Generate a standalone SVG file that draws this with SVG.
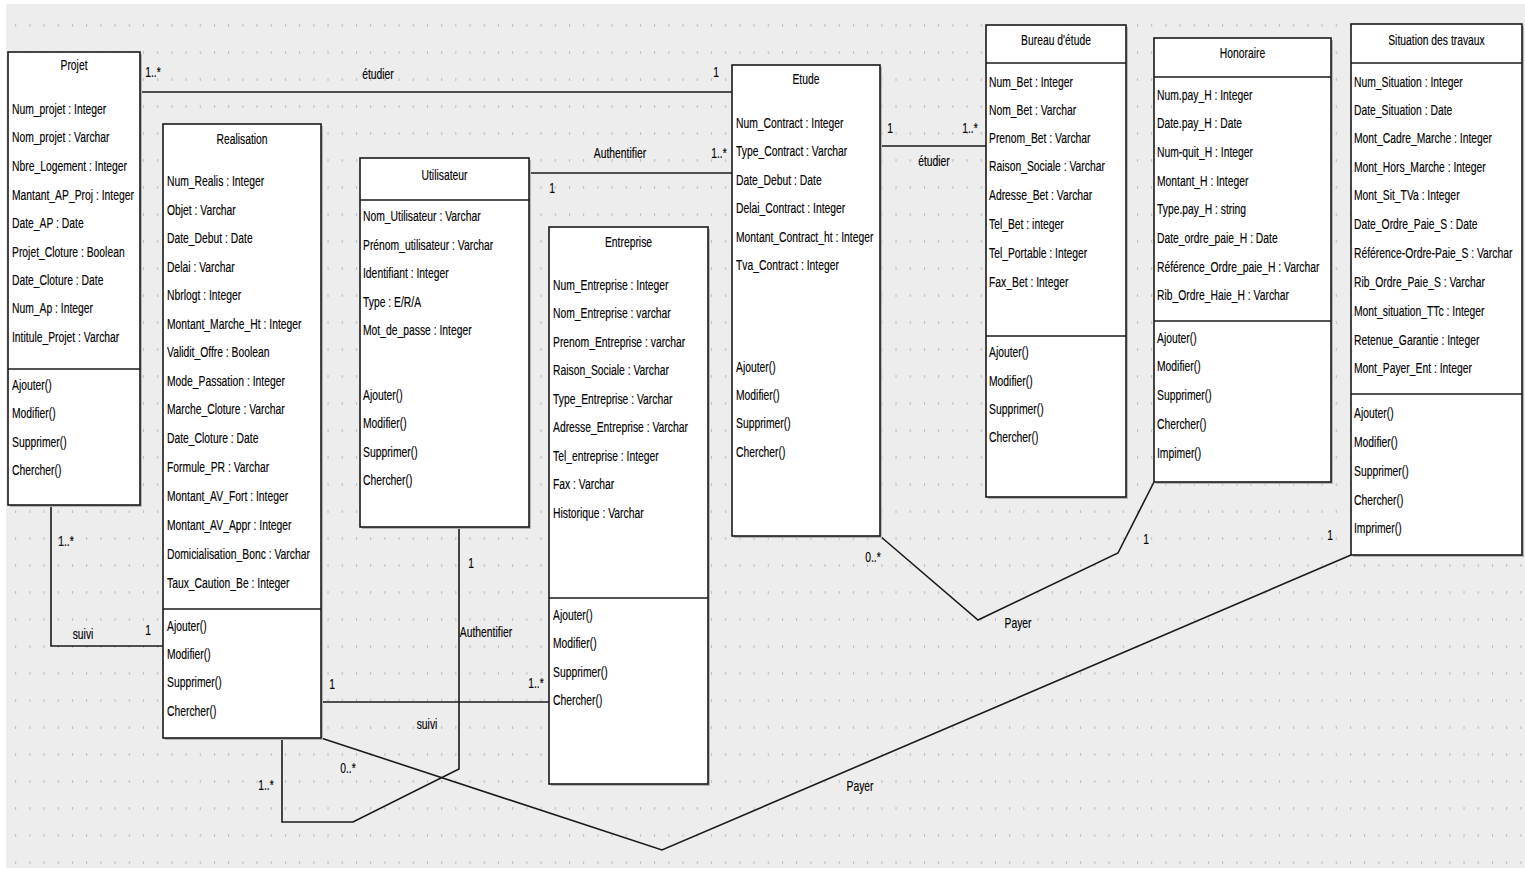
<svg xmlns="http://www.w3.org/2000/svg" width="1525" height="870" viewBox="0 0 1525 870">
<style>
.bg{fill:#ededed}
.box{fill:#fff;stroke:#1a1a1a;stroke-width:1.6}
.shd{fill:#b5b5b5}
.sep{stroke:#1a1a1a;stroke-width:1.6}
.t{font-family:"Liberation Sans",Arial,sans-serif;font-size:15px;fill:#000;stroke:#000;stroke-width:0.15}
.c{text-anchor:middle}
.conn{fill:none;stroke:#1a1a1a;stroke-width:1.6}
</style>
<defs>
<pattern id="grid" x="0" y="0" width="14.2" height="27" patternUnits="userSpaceOnUse">
<rect x="1" y="24" width="1" height="3" fill="#bdbdbd"/>
</pattern>
</defs>
<rect width="1525" height="870" fill="#fff"/>
<rect class="bg" x="6" y="4" width="1519" height="864"/>
<rect x="6" y="4" width="1519" height="864" fill="url(#grid)"/>

<g id="connectors">
<polyline class="conn" points="140,92 732,92"/>
<polyline class="conn" points="529,173 732,173"/>
<polyline class="conn" points="880,146 986,146"/>
<polyline class="conn" points="51,505 51,646 163,646"/>
<polyline class="conn" points="321,702 549,702"/>
<polyline class="conn" points="459,527 459,769 353,822 282,822 282,738"/>
<polyline class="conn" points="321,738 662,850 1351,555"/>
<polyline class="conn" points="880,536 978,620 1118,553 1154,482"/>
<g class="t c">
<text transform="translate(153,77) scale(0.69,1)">1..*</text>
<text transform="translate(378,79) scale(0.69,1)">étudier</text>
<text transform="translate(716,77) scale(0.69,1)">1</text>
<text transform="translate(620,158) scale(0.69,1)">Authentifier</text>
<text transform="translate(719,158) scale(0.69,1)">1..*</text>
<text transform="translate(552,193) scale(0.69,1)">1</text>
<text transform="translate(890,133) scale(0.69,1)">1</text>
<text transform="translate(970,133) scale(0.69,1)">1..*</text>
<text transform="translate(934,166) scale(0.69,1)">étudier</text>
<text transform="translate(66,546) scale(0.69,1)">1..*</text>
<text transform="translate(83,639) scale(0.69,1)">suivi</text>
<text transform="translate(148,635) scale(0.69,1)">1</text>
<text transform="translate(332,689) scale(0.69,1)">1</text>
<text transform="translate(536,688) scale(0.69,1)">1..*</text>
<text transform="translate(427,729) scale(0.69,1)">suivi</text>
<text transform="translate(471,568) scale(0.69,1)">1</text>
<text transform="translate(486,637) scale(0.69,1)">Authentifier</text>
<text transform="translate(266,790) scale(0.69,1)">1..*</text>
<text transform="translate(348,773) scale(0.69,1)">0..*</text>
<text transform="translate(860,791) scale(0.69,1)">Payer</text>
<text transform="translate(1330,540) scale(0.69,1)">1</text>
<text transform="translate(873,562) scale(0.69,1)">0..*</text>
<text transform="translate(1146,544) scale(0.69,1)">1</text>
<text transform="translate(1018,628) scale(0.69,1)">Payer</text>
</g>
</g>

<g id="projet">
<rect class="shd" x="10" y="54" width="132" height="453"/>
<rect class="box" x="8" y="52" width="132" height="453"/>
<line class="sep" x1="8" y1="369" x2="140" y2="369"/>
<g class="t" transform="translate(12,0) scale(0.69,1)">
<text class="c" x="89.9" y="70">Projet</text>
<text x="0" y="114">Num_projet : Integer</text>
<text x="0" y="142">Nom_projet : Varchar</text>
<text x="0" y="171">Nbre_Logement : Integer</text>
<text x="0" y="200">Mantant_AP_Proj : Integer</text>
<text x="0" y="228">Date_AP : Date</text>
<text x="0" y="257">Projet_Cloture : Boolean</text>
<text x="0" y="285">Date_Cloture : Date</text>
<text x="0" y="313">Num_Ap : Integer</text>
<text x="0" y="342">Intitule_Projet : Varchar</text>
<text x="0" y="390">Ajouter()</text>
<text x="0" y="418">Modifier()</text>
<text x="0" y="447">Supprimer()</text>
<text x="0" y="475">Chercher()</text>
</g>
</g>

<g id="realisation">
<rect class="shd" x="165" y="126" width="158" height="614"/>
<rect class="box" x="163" y="124" width="158" height="614"/>
<line class="sep" x1="163" y1="609" x2="321" y2="609"/>
<g class="t" transform="translate(167,0) scale(0.69,1)">
<text class="c" x="108.7" y="144">Realisation</text>
<text x="0" y="186">Num_Realis : Integer</text>
<text x="0" y="215">Objet : Varchar</text>
<text x="0" y="243">Date_Debut : Date</text>
<text x="0" y="272">Delai : Varchar</text>
<text x="0" y="300">Nbrlogt : Integer</text>
<text x="0" y="329">Montant_Marche_Ht : Integer</text>
<text x="0" y="357">Validit_Offre : Boolean</text>
<text x="0" y="386">Mode_Passation : Integer</text>
<text x="0" y="414">Marche_Cloture : Varchar</text>
<text x="0" y="443">Date_Cloture : Date</text>
<text x="0" y="472">Formule_PR : Varchar</text>
<text x="0" y="501">Montant_AV_Fort : Integer</text>
<text x="0" y="530">Montant_AV_Appr : Integer</text>
<text x="0" y="559">Domicialisation_Bonc : Varchar</text>
<text x="0" y="588">Taux_Caution_Be : Integer</text>
<text x="0" y="631">Ajouter()</text>
<text x="0" y="659">Modifier()</text>
<text x="0" y="687">Supprimer()</text>
<text x="0" y="716">Chercher()</text>
</g>
</g>

<g id="utilisateur">
<rect class="shd" x="362" y="160" width="169" height="369"/>
<rect class="box" x="360" y="158" width="169" height="369"/>
<line class="sep" x1="360" y1="200" x2="529" y2="200"/>
<g class="t" transform="translate(363,0) scale(0.69,1)">
<text class="c" x="118.1" y="180">Utilisateur</text>
<text x="0" y="221">Nom_Utilisateur : Varchar</text>
<text x="0" y="250">Prénom_utilisateur : Varchar</text>
<text x="0" y="278">Identifiant : Integer</text>
<text x="0" y="307">Type : E/R/A</text>
<text x="0" y="335">Mot_de_passe : Integer</text>
<text x="0" y="400">Ajouter()</text>
<text x="0" y="428">Modifier()</text>
<text x="0" y="457">Supprimer()</text>
<text x="0" y="485">Chercher()</text>
</g>
</g>

<g id="entreprise">
<rect class="shd" x="551" y="229" width="159" height="557"/>
<rect class="box" x="549" y="227" width="159" height="557"/>
<line class="sep" x1="549" y1="598" x2="708" y2="598"/>
<g class="t" transform="translate(553,0) scale(0.69,1)">
<text class="c" x="109.4" y="247">Entreprise</text>
<text x="0" y="290">Num_Entreprise : Integer</text>
<text x="0" y="318">Nom_Entreprise : varchar</text>
<text x="0" y="347">Prenom_Entreprise : varchar</text>
<text x="0" y="375">Raison_Sociale : Varchar</text>
<text x="0" y="404">Type_Entreprise : Varchar</text>
<text x="0" y="432">Adresse_Entreprise : Varchar</text>
<text x="0" y="461">Tel_entreprise : Integer</text>
<text x="0" y="489">Fax : Varchar</text>
<text x="0" y="518">Historique : Varchar</text>
<text x="0" y="620">Ajouter()</text>
<text x="0" y="648">Modifier()</text>
<text x="0" y="677">Supprimer()</text>
<text x="0" y="705">Chercher()</text>
</g>
</g>

<g id="etude">
<rect class="shd" x="734" y="67" width="148" height="471"/>
<rect class="box" x="732" y="65" width="148" height="471"/>
<g class="t" transform="translate(736,0) scale(0.69,1)">
<text class="c" x="101.4" y="84">Etude</text>
<text x="0" y="128">Num_Contract : Integer</text>
<text x="0" y="156">Type_Contract : Varchar</text>
<text x="0" y="185">Date_Debut : Date</text>
<text x="0" y="213">Delai_Contract : Integer</text>
<text x="0" y="242">Montant_Contract_ht : Integer</text>
<text x="0" y="270">Tva_Contract : Integer</text>
<text x="0" y="372">Ajouter()</text>
<text x="0" y="400">Modifier()</text>
<text x="0" y="428">Supprimer()</text>
<text x="0" y="457">Chercher()</text>
</g>
</g>

<g id="bureau-etude">
<rect class="shd" x="988" y="27" width="140" height="472"/>
<rect class="box" x="986" y="25" width="140" height="472"/>
<line class="sep" x1="986" y1="63" x2="1126" y2="63"/>
<line class="sep" x1="986" y1="336" x2="1126" y2="336"/>
<g class="t" transform="translate(989,0) scale(0.69,1)">
<text class="c" x="97.1" y="45">Bureau d'étude</text>
<text x="0" y="87">Num_Bet : Integer</text>
<text x="0" y="115">Nom_Bet : Varchar</text>
<text x="0" y="143">Prenom_Bet : Varchar</text>
<text x="0" y="171">Raison_Sociale : Varchar</text>
<text x="0" y="200">Adresse_Bet : Varchar</text>
<text x="0" y="229">Tel_Bet : integer</text>
<text x="0" y="258">Tel_Portable : Integer</text>
<text x="0" y="287">Fax_Bet : Integer</text>
<text x="0" y="357">Ajouter()</text>
<text x="0" y="386">Modifier()</text>
<text x="0" y="414">Supprimer()</text>
<text x="0" y="442">Chercher()</text>
</g>
</g>

<g id="honoraire">
<rect class="shd" x="1156" y="40" width="177" height="444"/>
<rect class="box" x="1154" y="38" width="177" height="444"/>
<line class="sep" x1="1154" y1="77" x2="1331" y2="77"/>
<line class="sep" x1="1154" y1="321" x2="1331" y2="321"/>
<g class="t" transform="translate(1157,0) scale(0.69,1)">
<text class="c" x="123.9" y="58">Honoraire</text>
<text x="0" y="100">Num.pay_H : Integer</text>
<text x="0" y="128">Date.pay_H : Date</text>
<text x="0" y="157">Num-quit_H : Integer</text>
<text x="0" y="186">Montant_H : Integer</text>
<text x="0" y="214">Type.pay_H : string</text>
<text x="0" y="243">Date_ordre_paie_H : Date</text>
<text x="0" y="272">Référence_Ordre_paie_H : Varchar</text>
<text x="0" y="300">Rib_Ordre_Haie_H : Varchar</text>
<text x="0" y="343">Ajouter()</text>
<text x="0" y="371">Modifier()</text>
<text x="0" y="400">Supprimer()</text>
<text x="0" y="429">Chercher()</text>
<text x="0" y="458">Impimer()</text>
</g>
</g>

<g id="situation-travaux">
<rect class="shd" x="1353" y="26" width="171" height="531"/>
<rect class="box" x="1351" y="24" width="171" height="531"/>
<line class="sep" x1="1351" y1="63" x2="1522" y2="63"/>
<line class="sep" x1="1351" y1="394" x2="1522" y2="394"/>
<g class="t" transform="translate(1354,0) scale(0.69,1)">
<text class="c" x="119.6" y="45">Situation des travaux</text>
<text x="0" y="87">Num_Situation : Integer</text>
<text x="0" y="115">Date_Situation : Date</text>
<text x="0" y="143">Mont_Cadre_Marche : Integer</text>
<text x="0" y="172">Mont_Hors_Marche : Integer</text>
<text x="0" y="200">Mont_Sit_TVa : Integer</text>
<text x="0" y="229">Date_Ordre_Paie_S : Date</text>
<text x="0" y="258">Référence-Ordre-Paie_S : Varchar</text>
<text x="0" y="287">Rib_Ordre_Paie_S : Varchar</text>
<text x="0" y="316">Mont_situation_TTc : Integer</text>
<text x="0" y="345">Retenue_Garantie : Integer</text>
<text x="0" y="373">Mont_Payer_Ent : Integer</text>
<text x="0" y="418">Ajouter()</text>
<text x="0" y="447">Modifier()</text>
<text x="0" y="476">Supprimer()</text>
<text x="0" y="505">Chercher()</text>
<text x="0" y="533">Imprimer()</text>
</g>
</g>
</svg>
